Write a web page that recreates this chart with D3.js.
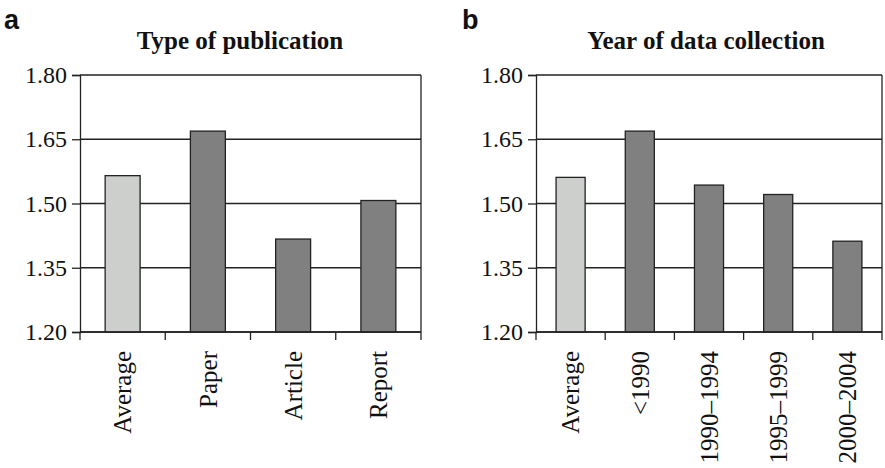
<!DOCTYPE html>
<html><head><meta charset="utf-8">
<script src="https://cdn.jsdelivr.net/npm/d3@7"></script>
<style>body{margin:0;background:#fff}svg{display:block}
.serif{font-family:"Liberation Serif","Times New Roman",Times,serif}
.sans{font-family:"Liberation Sans",Arial,Helvetica,sans-serif}</style>
</head><body>
<svg id="c" width="885" height="468"></svg>
<script>
const yTicks = [1.20, 1.35, 1.50, 1.65, 1.80];
const catsA = ["Average", "Paper", "Article", "Report"];
const valsA = [1.565, 1.669, 1.417, 1.507];
const catsB = ["Average", "<1990", "1990\u20131994", "1995\u20131999", "2000\u20132004"];
const valsB = [1.561, 1.669, 1.543, 1.521, 1.412];

const svg = d3.select("#c");
const LINE = "#222";

function panel(opt){
  const {cats, vals, x0, x1, title, titleX, letter, letterX, barFrac} = opt;
  const y = d3.scaleLinear().domain([1.20, 1.80]).range([332, 75]);
  const x = d3.scaleBand().domain(cats).range([x0, x1]).paddingInner(0).paddingOuter(0);
  const g = svg.append("g");
  g.selectAll("line.grid").data(yTicks).join("line")
    .attr("x1", x0).attr("x2", x1).attr("y1", d=>y(d)).attr("y2", d=>y(d))
    .attr("stroke", LINE).attr("stroke-width", 1.3);
  g.append("line").attr("x1", x1).attr("x2", x1).attr("y1", y(1.8)).attr("y2", y(1.2))
    .attr("stroke", LINE).attr("stroke-width", 1.3);
  const bw = x.bandwidth()*barFrac;
  g.selectAll("rect").data(cats).join("rect")
    .attr("x", d=>x(d)+(x.bandwidth()-bw)/2).attr("width", bw)
    .attr("y", (d,i)=>y(vals[i])).attr("height", (d,i)=>y(1.2)-y(vals[i]))
    .attr("fill", (d,i)=> i===0 ? "#cdcfcd" : "#808080")
    .attr("stroke", LINE).attr("stroke-width", 1.3);
  const ya = g.append("g").attr("transform", `translate(${x0},0)`)
    .call(d3.axisLeft(y).tickValues(yTicks).tickFormat(d3.format(".2f")).tickSize(8).tickPadding(5));
  ya.attr("font-family", null).attr("font-size", null);
  ya.select(".domain").attr("stroke", LINE).attr("stroke-width", 1.3);
  ya.selectAll(".tick line").attr("stroke", LINE).attr("stroke-width", 1.3);
  ya.selectAll("text").attr("class", "serif").style("font-size", "24px").attr("fill", "#111");
  const bounds = cats.map(c=>x(c)).concat([x1]);
  g.selectAll("line.xt").data(bounds).join("line")
    .attr("x1", d=>d).attr("x2", d=>d).attr("y1", y(1.2)).attr("y2", y(1.2)+8)
    .attr("stroke", LINE).attr("stroke-width", 1.3);
  g.append("line").attr("x1", x0).attr("x2", x1).attr("y1", y(1.2)).attr("y2", y(1.2))
    .attr("stroke", LINE).attr("stroke-width", 1.3);
  g.selectAll("text.xl").data(cats).join("text")
    .attr("class", "serif")
    .attr("transform", d=>`translate(${x(d)+x.bandwidth()/2},${y(1.2)+19}) rotate(-90)`)
    .attr("text-anchor", "end").attr("dy", "0.35em")
    .style("font-size", "25px").attr("fill", "#111")
    .text(d=>d);
  g.append("text").attr("class", "serif").attr("x", titleX).attr("y", 49).attr("text-anchor", "middle")
    .style("font-weight", "bold").style("font-size", "25px").attr("fill", "#111")
    .text(title);
  g.append("text").attr("class", "sans").attr("x", letterX).attr("y", 29)
    .style("font-weight", "bold").style("font-size", "27px").attr("fill", "#111")
    .text(letter);
}

panel({cats: catsA, vals: valsA, x0: 80, x1: 421, title: "Type of publication", titleX: 240, letter: "a", letterX: 4, barFrac: 0.41});
panel({cats: catsB, vals: valsB, x0: 536, x1: 882, title: "Year of data collection", titleX: 706, letter: "b", letterX: 462, barFrac: 0.42});
</script>
</body></html>
